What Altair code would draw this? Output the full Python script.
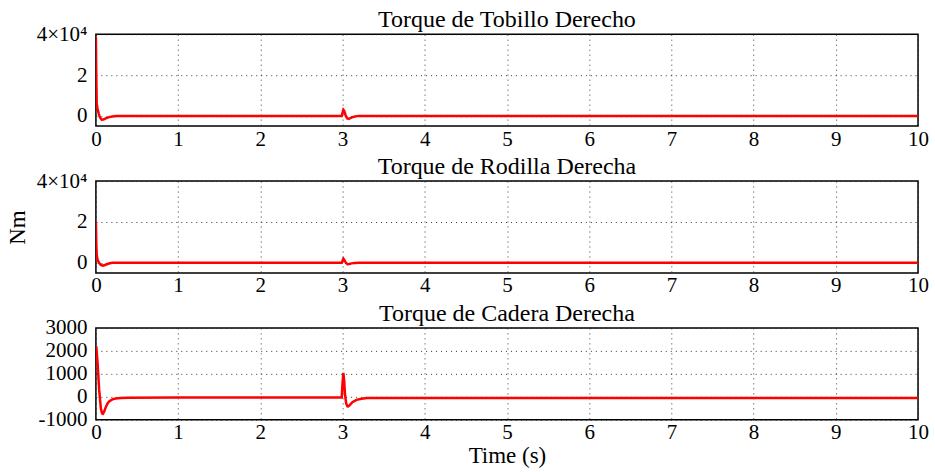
import altair as alt
import pandas as pd

# Panel 1: Torque de Tobillo Derecho (Nm)
t_ankle = [0, 0.004, 0.01, 0.02, 0.035, 0.05, 0.07, 0.09, 0.12, 0.16, 0.2, 0.25, 0.3, 1, 2,
           2.99, 3.0, 3.01, 3.02, 3.04, 3.06, 3.08, 3.1, 3.13, 3.17, 3.2, 3.5, 5, 7, 10]
v_ankle = [38500, 22000, 6000, 3500, 1000, -800, -1900, -1800, -1200, -600, -250, -50, 0, 0, 0,
           0, 1500, 3000, 2500, 0, -1300, -1400, -1000, -500, -100, 0, 0, 0, 0, 0]

# Panel 2: Torque de Rodilla Derecha (Nm)
t_knee = [0, 0.005, 0.01, 0.02, 0.04, 0.06, 0.085, 0.11, 0.14, 0.17, 0.2, 0.25, 1, 2,
          2.99, 3.0, 3.01, 3.02, 3.04, 3.06, 3.08, 3.11, 3.15, 3.2, 5, 10]
v_knee = [20000, 9000, 3800, 1500, -200, -1100, -1400, -1100, -600, -250, -50, 0, 0, 0,
          0, 1000, 2000, 1500, 0, -700, -600, -300, -100, 0, 0, 0]

# Panel 3: Torque de Cadera Derecha (Nm)
t_hip = [0.005, 0.02, 0.04, 0.06, 0.075, 0.085, 0.1, 0.12, 0.14, 0.16, 0.2, 0.24, 0.3, 0.4, 1, 2,
         2.99, 3.0, 3.01, 3.02, 3.03, 3.045, 3.06, 3.07, 3.09, 3.12, 3.17, 3.23, 3.3, 3.4, 5, 7, 10]
v_hip = [2200, 1500, 300, -500, -720, -740, -650, -450, -300, -200, -110, -70, -50, -40, -30, -30,
         -30, 600, 1040, 700, 100, -300, -410, -415, -350, -230, -130, -80, -55, -50, -50, -55, -55]

titles = ["Torque de Tobillo Derecho", "Torque de Rodilla Derecha", "Torque de Cadera Derecha"]
x_ticks = list(range(0, 11))
y_ticks_big = [0, 20000, 40000]
y_ticks_hip = [-1000, 0, 1000, 2000, 3000]

FONT = "Liberation Serif"
W, H = 823, 92


def panel(t, v, title, ydomain, yticks, label_expr, ytitle=None, xtitle=None):
    df = pd.DataFrame({"t": t, "v": v})
    x_axis = alt.Axis(values=x_ticks, grid=True, gridDash=[1, 4], gridColor="#222",
                      gridOpacity=0.9, ticks=False, tickSize=0, labelPadding=2,
                      labelFlush=False, domain=False, title=xtitle, titlePadding=2)
    y_axis = alt.Axis(values=yticks, grid=True, gridDash=[1, 4], gridColor="#222",
                      gridOpacity=0.9, ticks=False, tickSize=0, labelPadding=9,
                      domain=False, labelExpr=label_expr, title=ytitle,
                      titlePadding=7)
    return alt.Chart(df).mark_line(color="#ff0000", strokeWidth=2.5, clip=True).encode(
        x=alt.X("t:Q", scale=alt.Scale(domain=[0, 10], nice=False, zero=False), axis=x_axis),
        y=alt.Y("v:Q", scale=alt.Scale(domain=ydomain, nice=False, zero=False), axis=y_axis),
    ).properties(
        width=W, height=H,
        title=alt.TitleParams(title, offset=-9, anchor="middle",
                              fontSize=24, font=FONT, fontWeight="normal", color="black"),
    )


big_expr = "datum.value == 40000 ? '4×10⁴' : '' + (datum.value / 10000)"
hip_expr = "datum.value < 0 ? '-' + abs(datum.value) : '' + datum.value"

p1 = panel(t_ankle, v_ankle, titles[0], [-5000, 40000], y_ticks_big, big_expr)
p2 = panel(t_knee, v_knee, titles[1], [-5000, 40000], y_ticks_big, big_expr, ytitle="Nm")
p3 = panel(t_hip, v_hip, titles[2], [-1000, 3000], y_ticks_hip, hip_expr, xtitle="Time (s)")

chart = alt.vconcat(p1, p2, p3, spacing=4).properties(
    padding={"left": 5, "top": 7, "right": 5, "bottom": 5},
    background="white",
).configure_view(
    stroke="black", strokeWidth=1.5
).configure_axis(
    labelFont=FONT, labelFontSize=21, labelColor="black",
    titleFont=FONT, titleFontSize=23, titleColor="black", titleFontWeight="normal",
).configure_concat(spacing=4)

chart.save("out.html", embed_options={"renderer": "svg", "actions": False})
